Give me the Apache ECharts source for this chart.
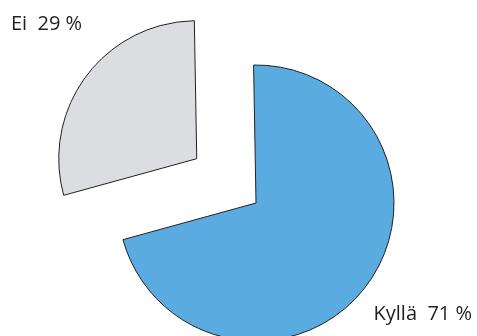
<!DOCTYPE html>
<html>
<head>
<meta charset="utf-8">
<script src="https://cdn.jsdelivr.net/npm/echarts@6/dist/echarts.min.js"></script>
<style>html,body{margin:0;padding:0;background:#fff}#c{width:477px;height:336px}</style>
</head>
<body>
<div id="c"></div>
<script>
var categories = ['Kyllä', 'Ei'];
var values = [71, 29];
var colors = ['#5aabdf', '#dcdde0'];

function labelText(i) { return categories[i] + '  ' + values[i] + ' %'; }

var chart = echarts.init(document.getElementById('c'), null, {renderer: 'canvas'});
chart.setOption({
  animation: false,
  graphic: [
    {type: 'text', right: 5, top: 304, style: {text: labelText(0), font: '20px "Open Sans"', fill: '#231f20'}},
    {type: 'text', left: 11, top: 14, style: {text: labelText(1), font: '20px "Open Sans"', fill: '#231f20'}}
  ],
  series: [{
    type: 'pie',
    center: [256, 203],
    radius: 138,
    startAngle: 91,
    clockwise: true,
    selectedMode: 'multiple',
    selectedOffset: 74,
    emphasis: {disabled: true},
    itemStyle: {borderColor: '#231f20', borderWidth: 1},
    label: {show: false},
    labelLine: {show: false},
    data: categories.map(function (c, i) {
      return {name: c, value: values[i], selected: i === 1, itemStyle: {color: colors[i]}};
    })
  }]
});
</script>
</body>
</html>
